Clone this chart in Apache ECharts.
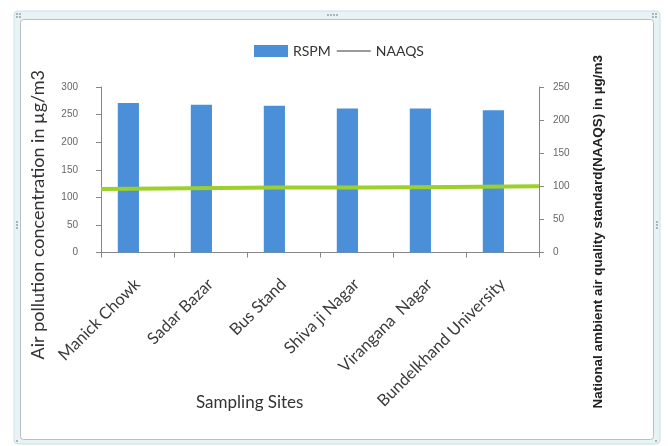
<!DOCTYPE html>
<html>
<head>
<meta charset="utf-8">
<script src="https://cdn.jsdelivr.net/npm/echarts@6/dist/echarts.min.js"></script>
<style>
  html, body { margin: 0; padding: 0; background: #ffffff; }
  #chart { width: 668px; height: 446px; }
</style>
</head>
<body>
<div id="chart"></div>
<script>
// Sampling sites and measured concentrations (µg/m3)
const sites = ['Manick Chowk', 'Sadar Bazar', 'Bus Stand', 'Shiva ji Nagar', 'Virangana  Nagar', 'Bundelkhand University'];
const rspm = [271, 268, 266, 261, 261, 258];
const naaqs = [96, 97, 98, 98, 99, 100];

const leftTicks = { min: 0, max: 300, interval: 50 };
const rightTicks = { min: 0, max: 250, interval: 50 };

const chart = echarts.init(document.getElementById('chart'), null, { renderer: 'canvas' });

// small grip dots on the chart frame
function dots(cx, cy, n, horizontal) {
  const out = [];
  for (let i = 0; i < n; i++) {
    out.push({
      type: 'circle',
      shape: { cx: horizontal ? cx + i * 3 : cx, cy: horizontal ? cy : cy + i * 3, r: 0.9 },
      style: { fill: '#8a9aa0' },
      silent: true
    });
  }
  return out;
}

const frame = [
  { type: 'rect', shape: { x: 14, y: 11, width: 646, height: 433, r: 4 },
    style: { fill: '#e8f3f6', stroke: '#c9e0e6', lineWidth: 1 }, z: -10, silent: true },
  { type: 'rect', shape: { x: 20.5, y: 19.5, width: 633, height: 420, r: 3 },
    style: { fill: '#ffffff', stroke: '#b4c0c4', lineWidth: 1 }, z: -9, silent: true }
].concat(
  dots(328, 15, 4, true),
  dots(17, 222, 3, false),
  dots(657, 222, 3, false),
  dots(17, 14, 2, true), dots(17, 17, 2, true),
  dots(653, 14, 2, true), dots(653, 17, 2, true),
  dots(17, 441, 1, true), dots(656, 441, 1, true)
);

chart.setOption({
  backgroundColor: '#ffffff',
  animation: false,
  textStyle: { fontFamily: 'Lato, "Liberation Sans", sans-serif' },
  graphic: frame.concat([
    { type: 'text', left: 196, top: 394,
      style: { text: 'Sampling Sites', font: '17px Lato, sans-serif', fill: '#333333' }, silent: true }
  ]),
  legend: {
    top: 39,
    left: 249,
    itemGap: 5,
    itemWidth: 34,
    itemHeight: 12,
    textStyle: { fontSize: 14, color: '#333333', fontFamily: 'Lato, sans-serif' },
    data: [
      { name: 'RSPM', icon: 'rect', itemStyle: { color: '#4a8fd8' } },
      { name: 'NAAQS', itemStyle: { opacity: 0 }, lineStyle: { color: '#9a9a9a', width: 2 } }
    ]
  },
  grid: { left: 101, right: 129, top: 87, bottom: 193.5, containLabel: false },
  xAxis: [
    {
      type: 'category',
      data: sites,
      boundaryGap: true,
      axisLine: { lineStyle: { color: '#868686', width: 1 } },
      axisTick: { show: true, length: 5, lineStyle: { color: '#868686' } },
      axisLabel: { rotate: 45, margin: 29, fontSize: 16.5, color: '#3a3a3a',
        fontFamily: 'Lato, sans-serif', interval: 0 }
    },
    {
      type: 'category',
      data: sites,
      boundaryGap: false,
      show: false
    }
  ],
  yAxis: [
    {
      type: 'value',
      min: leftTicks.min, max: leftTicks.max, interval: leftTicks.interval,
      name: 'Air pollution concentration in µg/m3',
      nameLocation: 'middle',
      nameGap: 54,
      nameRotate: 90,
      nameTextStyle: { fontSize: 18, color: '#333333', fontFamily: 'Lato, sans-serif',
        padding: [0, 0, 0, -90] },
      axisLine: { show: true, lineStyle: { color: '#868686' } },
      axisTick: { show: true, length: 5, lineStyle: { color: '#868686' } },
      axisLabel: { fontSize: 10, color: '#666666', margin: 23, fontFamily: '"Liberation Sans", sans-serif' },
      splitLine: { show: false }
    },
    {
      type: 'value',
      position: 'right',
      min: rightTicks.min, max: rightTicks.max, interval: rightTicks.interval,
      name: 'National ambient air quality standard(NAAQS) in µg/m3',
      nameLocation: 'middle',
      nameGap: 52,
      nameRotate: 90,
      nameTextStyle: { fontSize: 13.5, fontWeight: 'bold', color: '#222222',
        fontFamily: '"Liberation Sans", sans-serif', padding: [0, 0, 0, -124] },
      axisLine: { show: true, lineStyle: { color: '#868686' } },
      axisTick: { show: true, length: 5, lineStyle: { color: '#868686' } },
      axisLabel: { fontSize: 10, color: '#666666', margin: 14, fontFamily: '"Liberation Sans", sans-serif' },
      splitLine: { show: false }
    }
  ],
  series: [
    {
      name: 'RSPM',
      type: 'custom',
      xAxisIndex: 0,
      yAxisIndex: 0,
      data: rspm.map((v, i) => [i, v]),
      encode: { x: 0, y: 1 },
      itemStyle: { color: '#4a8fd8' },
      renderItem: function (params, api) {
        const top = api.coord([api.value(0), api.value(1)]);
        const base = api.coord([api.value(0), 0]);
        const bandW = api.size([1, 0])[0];
        const w = bandW * 0.29;
        const cx = top[0] - bandW * 0.125;
        return {
          type: 'rect',
          shape: { x: cx - w / 2, y: top[1], width: w, height: base[1] - top[1] },
          style: { fill: '#4a8fd8' }
        };
      },
      z: 2
    },
    {
      name: 'NAAQS',
      type: 'line',
      xAxisIndex: 1,
      yAxisIndex: 1,
      data: naaqs,
      symbol: 'none',
      lineStyle: { color: '#9bd12a', width: 4 },
      itemStyle: { color: '#9bd12a' },
      z: 3
    }
  ]
});
</script>
</body>
</html>
